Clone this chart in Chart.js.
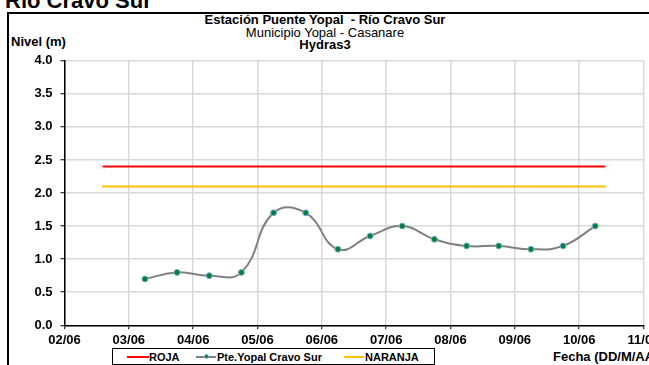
<!DOCTYPE html>
<html>
<head>
<meta charset="utf-8">
<script src="https://cdn.jsdelivr.net/npm/chart.js@4.4.1/dist/chart.umd.min.js"></script>
<style>
  html, body { margin: 0; padding: 0; background: #fff; }
  body { width: 649px; height: 365px; position: relative; overflow: hidden; font-family: "Liberation Sans", Arial, sans-serif; }
  .abs { position: absolute; white-space: nowrap; }
  #box { position: absolute; left: 7px; top: 12px; width: 720px; height: 420px; border: 2px solid #000; box-sizing: border-box; }
  #bigtitle { left: 5px; top: -10px; font: bold 22px/22px "Liberation Sans", Arial, sans-serif; color: #000; }
  .t { left: 125px; width: 400px; text-align: center; font-size: 13px; line-height: 14px; color: #000; }
  #c { position: absolute; left: 0; top: 0; }
  #legend { position: absolute; left: 112px; top: 348px; width: 323px; height: 17px; border: 1px solid #000; box-sizing: border-box; background: #fff; }
  .lg { position: absolute; font: bold 11px/12px "Liberation Sans", Arial, sans-serif; top: 2px; color: #000; }
  .ln { position: absolute; height: 2px; top: 7px; }
  .dot { position: absolute; width: 5px; height: 5px; border-radius: 50%; top: 5px; background: #00803a; border: 1px solid #7fb0de; box-sizing: border-box; }
</style>
</head>
<body>
<div id="box"></div>
<div id="bigtitle" class="abs">Río Cravo Sur</div>
<div class="abs t" style="top:13px;font-weight:bold;">Estación Puente Yopal&nbsp; - Río Cravo Sur</div>
<div class="abs t" style="top:26px;">Municipio Yopal - Casanare</div>
<div class="abs t" style="top:38px;font-weight:bold;">Hydras3</div>
<div class="abs" style="left:11px;top:35px;font:bold 13px/14px 'Liberation Sans',Arial,sans-serif;">Nivel (m)</div>
<div class="abs" style="left:553px;top:350px;font:bold 13px/14px 'Liberation Sans',Arial,sans-serif;">Fecha (DD/M/AA)</div>
<canvas id="c" width="649" height="365"></canvas>
<div id="legend">
  <div class="ln" style="left:14px;width:22px;background:#ff0000;"></div>
  <div class="lg" style="left:36px;">ROJA</div>
  <div class="ln" style="left:83px;width:20px;background:#808080;"></div>
  <div class="dot" style="left:91px;"></div>
  <div class="lg" style="left:104px;">Pte.Yopal Cravo Sur</div>
  <div class="ln" style="left:231px;width:20px;background:#ffc000;"></div>
  <div class="lg" style="left:252px;">NARANJA</div>
</div>
<script>
// ---- data ----
const xTickLabels = ["02/06", "03/06", "04/06", "05/06", "06/06", "07/06", "08/06", "09/06", "10/06", "11/06"];
const seriesTimes = ["03/06 06:00", "03/06 18:00", "04/06 06:00", "04/06 18:00", "05/06 06:00", "05/06 18:00",
                     "06/06 06:00", "06/06 18:00", "07/06 06:00", "07/06 18:00", "08/06 06:00", "08/06 18:00",
                     "09/06 06:00", "09/06 18:00", "10/06 06:00"];
const seriesValues = [0.7, 0.8, 0.75, 0.8, 1.7, 1.7, 1.15, 1.35, 1.5, 1.3, 1.2, 1.2, 1.15, 1.2, 1.5];
const thresholdTimes = ["02/06 14:00", "10/06 10:00"];
const rojaValues = [2.4, 2.4];
const naranjaValues = [2.1, 2.1];
const yTickLabels = ["0.0", "0.5", "1.0", "1.5", "2.0", "2.5", "3.0", "3.5", "4.0"];

// convert "DD/MM HH:MM" to days since 02/06 00:00
function toDays(s) {
  const [d, t] = s.split(" ");
  const day = parseInt(d.split("/")[0], 10);
  const [h, m] = t.split(":").map(Number);
  return (day - 2) + (h + m / 60) / 24;
}
const pts = (times, vals) => times.map((t, i) => ({ x: toDays(t), y: vals[i] }));

const FONT = "'Liberation Sans', Arial, sans-serif";

new Chart(document.getElementById("c"), {
  type: "line",
  data: {
    datasets: [
      { label: "ROJA", data: pts(thresholdTimes, rojaValues), borderColor: "#ff0000", borderWidth: 2,
        pointStyle: "crossRot", pointRadius: 4, pointBorderColor: "#d4d4ee", pointBorderWidth: 1, tension: 0 },
      { label: "Pte.Yopal Cravo Sur", data: pts(seriesTimes, seriesValues), borderColor: "#808080", borderWidth: 2,
        pointRadius: 3, pointBackgroundColor: "#00803a", pointBorderColor: "#7fb0de", pointBorderWidth: 1,
        tension: 0.45, cubicInterpolationMode: "default" },
      { label: "NARANJA", data: pts(thresholdTimes, naranjaValues), borderColor: "#ffc000", borderWidth: 2,
        pointRadius: 0, tension: 0 }
    ]
  },
  options: {
    responsive: false,
    devicePixelRatio: 1,
    animation: false,
    layout: { padding: { left: 0, right: 5.5, top: 60.7, bottom: 0 }, autoPadding: false },
    plugins: { legend: { display: false }, tooltip: { enabled: false }, title: { display: false } },
    scales: {
      x: {
        type: "linear", min: 0, max: 9,
        afterFit: (s) => { s.height = 39.7; s.paddingRight = 0; s.paddingLeft = 0; },
        ticks: { stepSize: 1, autoSkip: false, maxRotation: 0, padding: 3, color: "#000",
                 font: { family: FONT, size: 13, weight: "bold" },
                 callback: (v) => xTickLabels[Math.round(v)] },
        grid: { color: "#d9d9d9", lineWidth: 1.5, tickColor: "#000", tickLength: 4, tickWidth: 1 },
        border: { display: true, color: "#000", width: 1.5 }
      },
      y: {
        min: 0, max: 4,
        afterFit: (s) => { s.width = 64.5; s.paddingTop = 0; s.paddingBottom = 0; },
        ticks: { stepSize: 0.5, padding: 8, color: "#000",
                 font: { family: FONT, size: 13, weight: "bold" },
                 callback: (v) => yTickLabels[Math.round(v * 2)] },
        grid: { color: "#d9d9d9", lineWidth: 1.5, tickColor: "#000", tickLength: 4, tickWidth: 1 },
        border: { display: true, color: "#000", width: 1.5 }
      }
    }
  }
});
</script>
</body>
</html>
